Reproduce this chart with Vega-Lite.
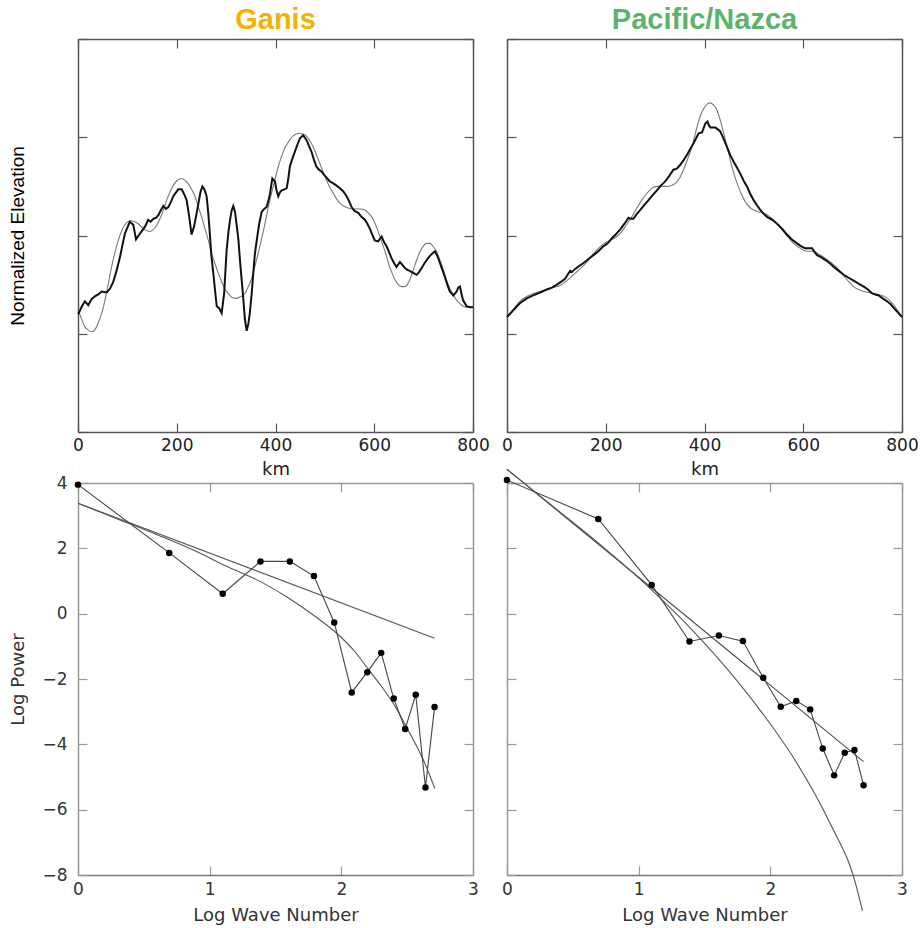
{
  "$schema": "https://vega.github.io/schema/vega-lite/v6.json",
  "background": "white",
  "padding": {"left": 8, "top": 6, "right": 5, "bottom": 2},
  "columns": 2,
  "spacing": {"row": 51, "column": 34},
  "bounds": "flush",
  "datasets": {
    "ganis_obs": [
      {"km":0,"elev":1.2},{"km":2.6,"elev":1.22},{"km":8,"elev":1.28},{"km":14,"elev":1.33},{"km":21,"elev":1.29},{"km":27,"elev":1.35},{"km":34,"elev":1.38},{"km":41,"elev":1.4},{"km":48,"elev":1.43},{"km":58,"elev":1.42},{"km":65,"elev":1.46},{"km":71.5,"elev":1.53},{"km":78,"elev":1.64},{"km":85,"elev":1.78},{"km":90,"elev":1.9},{"km":95,"elev":2.02},{"km":100,"elev":2.08},{"km":105,"elev":2.14},{"km":112,"elev":2.11},{"km":117.5,"elev":1.96},{"km":125.5,"elev":2.02},{"km":135.7,"elev":2.09},{"km":142,"elev":2.16},{"km":147,"elev":2.14},{"km":152.5,"elev":2.17},{"km":158,"elev":2.18},{"km":163,"elev":2.21},{"km":168,"elev":2.26},{"km":173,"elev":2.3},{"km":178,"elev":2.27},{"km":183,"elev":2.29},{"km":188,"elev":2.34},{"km":193,"elev":2.4},{"km":203,"elev":2.47},{"km":210,"elev":2.47},{"km":215,"elev":2.42},{"km":220,"elev":2.36},{"km":225,"elev":2.2},{"km":230,"elev":2.01},{"km":235,"elev":2.09},{"km":240,"elev":2.22},{"km":244,"elev":2.33},{"km":248,"elev":2.44},{"km":252,"elev":2.5},{"km":256,"elev":2.47},{"km":260.5,"elev":2.4},{"km":264,"elev":2.22},{"km":267,"elev":2.02},{"km":270,"elev":1.8},{"km":274,"elev":1.62},{"km":278,"elev":1.42},{"km":281,"elev":1.28},{"km":286,"elev":1.26},{"km":291,"elev":1.21},{"km":296,"elev":1.41},{"km":301,"elev":1.85},{"km":305,"elev":2.05},{"km":308,"elev":2.16},{"km":311,"elev":2.25},{"km":314.5,"elev":2.3},{"km":318,"elev":2.24},{"km":321,"elev":2.12},{"km":325,"elev":1.95},{"km":328,"elev":1.75},{"km":332,"elev":1.52},{"km":335,"elev":1.34},{"km":338,"elev":1.15},{"km":341.6,"elev":1.03},{"km":345,"elev":1.1},{"km":348,"elev":1.21},{"km":352,"elev":1.42},{"km":355,"elev":1.62},{"km":358,"elev":1.8},{"km":362,"elev":1.95},{"km":367,"elev":2.12},{"km":372,"elev":2.24},{"km":377,"elev":2.27},{"km":382,"elev":2.29},{"km":386,"elev":2.36},{"km":389,"elev":2.43},{"km":393.5,"elev":2.58},{"km":399,"elev":2.55},{"km":402,"elev":2.46},{"km":405.6,"elev":2.4},{"km":409,"elev":2.44},{"km":412.5,"elev":2.46},{"km":418,"elev":2.47},{"km":422.6,"elev":2.48},{"km":426,"elev":2.58},{"km":429,"elev":2.7},{"km":434,"elev":2.78},{"km":439,"elev":2.85},{"km":444,"elev":2.92},{"km":449.5,"elev":2.99},{"km":456,"elev":3.02},{"km":463,"elev":2.97},{"km":468,"elev":2.91},{"km":473,"elev":2.85},{"km":478,"elev":2.77},{"km":483,"elev":2.7},{"km":488,"elev":2.67},{"km":493.5,"elev":2.65},{"km":498,"elev":2.62},{"km":503.6,"elev":2.59},{"km":510,"elev":2.55},{"km":517,"elev":2.53},{"km":523,"elev":2.51},{"km":530.5,"elev":2.48},{"km":537,"elev":2.45},{"km":544,"elev":2.4},{"km":549,"elev":2.35},{"km":554,"elev":2.29},{"km":560,"elev":2.25},{"km":567.6,"elev":2.23},{"km":574,"elev":2.19},{"km":581,"elev":2.16},{"km":586,"elev":2.12},{"km":591,"elev":2.07},{"km":596,"elev":2.01},{"km":601,"elev":1.95},{"km":608,"elev":1.94},{"km":615,"elev":1.99},{"km":620,"elev":1.93},{"km":625,"elev":1.89},{"km":630,"elev":1.83},{"km":635,"elev":1.77},{"km":640,"elev":1.72},{"km":645,"elev":1.68},{"km":652,"elev":1.73},{"km":657,"elev":1.7},{"km":662,"elev":1.67},{"km":667,"elev":1.65},{"km":672,"elev":1.64},{"km":679,"elev":1.62},{"km":686,"elev":1.6},{"km":691,"elev":1.63},{"km":696,"elev":1.67},{"km":702,"elev":1.72},{"km":709,"elev":1.77},{"km":716,"elev":1.81},{"km":723,"elev":1.84},{"km":728,"elev":1.79},{"km":733,"elev":1.72},{"km":738,"elev":1.65},{"km":743,"elev":1.58},{"km":748,"elev":1.5},{"km":753,"elev":1.43},{"km":760,"elev":1.39},{"km":767,"elev":1.43},{"km":770,"elev":1.47},{"km":773.6,"elev":1.48},{"km":777,"elev":1.4},{"km":780,"elev":1.34},{"km":787,"elev":1.28},{"km":794,"elev":1.27},{"km":800,"elev":1.27}
    ],
    "ganis_model": [
      {"km":0,"elev":1.24},{"km":2.6,"elev":1.21},{"km":8,"elev":1.14},{"km":14,"elev":1.07},{"km":20,"elev":1.04},{"km":27.7,"elev":1.02},{"km":34,"elev":1.04},{"km":41,"elev":1.11},{"km":48,"elev":1.21},{"km":54.7,"elev":1.34},{"km":61,"elev":1.5},{"km":68,"elev":1.68},{"km":75,"elev":1.83},{"km":81.6,"elev":1.95},{"km":88,"elev":2.04},{"km":95,"elev":2.11},{"km":101,"elev":2.14},{"km":108.7,"elev":2.15},{"km":115,"elev":2.14},{"km":122,"elev":2.12},{"km":130,"elev":2.08},{"km":139,"elev":2.05},{"km":146,"elev":2.04},{"km":152.5,"elev":2.06},{"km":159,"elev":2.1},{"km":166,"elev":2.17},{"km":173,"elev":2.26},{"km":179.6,"elev":2.36},{"km":186,"elev":2.44},{"km":193,"elev":2.51},{"km":201,"elev":2.56},{"km":210,"elev":2.58},{"km":217,"elev":2.56},{"km":223,"elev":2.53},{"km":230,"elev":2.47},{"km":237,"elev":2.4},{"km":243,"elev":2.3},{"km":250.5,"elev":2.19},{"km":257,"elev":2.07},{"km":264,"elev":1.95},{"km":270,"elev":1.83},{"km":277,"elev":1.72},{"km":284,"elev":1.62},{"km":291,"elev":1.53},{"km":297,"elev":1.46},{"km":304,"elev":1.41},{"km":312,"elev":1.37},{"km":321,"elev":1.36},{"km":330,"elev":1.38},{"km":338,"elev":1.41},{"km":345,"elev":1.48},{"km":351.7,"elev":1.56},{"km":358,"elev":1.68},{"km":365,"elev":1.82},{"km":372,"elev":1.97},{"km":378.7,"elev":2.12},{"km":385,"elev":2.28},{"km":392,"elev":2.43},{"km":399,"elev":2.57},{"km":405.6,"elev":2.7},{"km":412,"elev":2.8},{"km":419,"elev":2.89},{"km":426,"elev":2.95},{"km":432.7,"elev":3.0},{"km":441,"elev":3.03},{"km":449.5,"elev":3.04},{"km":456,"elev":3.03},{"km":463,"elev":3.01},{"km":470,"elev":2.96},{"km":476.5,"elev":2.9},{"km":483,"elev":2.82},{"km":490,"elev":2.73},{"km":497,"elev":2.64},{"km":503.6,"elev":2.56},{"km":510,"elev":2.49},{"km":517,"elev":2.43},{"km":524,"elev":2.37},{"km":530.5,"elev":2.33},{"km":538,"elev":2.3},{"km":547,"elev":2.28},{"km":556,"elev":2.27},{"km":564,"elev":2.27},{"km":573,"elev":2.27},{"km":581,"elev":2.26},{"km":588,"elev":2.23},{"km":594.7,"elev":2.19},{"km":601,"elev":2.13},{"km":608,"elev":2.04},{"km":615,"elev":1.94},{"km":621.7,"elev":1.84},{"km":628,"elev":1.73},{"km":635,"elev":1.63},{"km":642,"elev":1.55},{"km":648.6,"elev":1.5},{"km":655,"elev":1.48},{"km":662,"elev":1.48},{"km":667,"elev":1.5},{"km":672,"elev":1.55},{"km":679,"elev":1.65},{"km":686,"elev":1.75},{"km":692,"elev":1.83},{"km":699,"elev":1.89},{"km":706,"elev":1.92},{"km":713,"elev":1.92},{"km":719,"elev":1.89},{"km":726,"elev":1.84},{"km":733,"elev":1.75},{"km":740,"elev":1.65},{"km":746,"elev":1.55},{"km":753,"elev":1.46},{"km":760,"elev":1.4},{"km":767,"elev":1.34},{"km":773,"elev":1.31},{"km":780,"elev":1.28},{"km":787,"elev":1.27},{"km":800,"elev":1.27}
    ],
    "pacific_obs": [
      {"km":0,"elev":1.17},{"km":13,"elev":1.24},{"km":26,"elev":1.31},{"km":40,"elev":1.36},{"km":53,"elev":1.39},{"km":67,"elev":1.42},{"km":80.5,"elev":1.45},{"km":91,"elev":1.47},{"km":101,"elev":1.5},{"km":110,"elev":1.53},{"km":117.6,"elev":1.56},{"km":124,"elev":1.61},{"km":128,"elev":1.64},{"km":132,"elev":1.63},{"km":138,"elev":1.66},{"km":146,"elev":1.69},{"km":155,"elev":1.72},{"km":165,"elev":1.76},{"km":175,"elev":1.8},{"km":185,"elev":1.84},{"km":195,"elev":1.89},{"km":204,"elev":1.92},{"km":212,"elev":1.97},{"km":220,"elev":2.01},{"km":229,"elev":2.06},{"km":238,"elev":2.12},{"km":246,"elev":2.18},{"km":251,"elev":2.17},{"km":256,"elev":2.17},{"km":263,"elev":2.22},{"km":270,"elev":2.26},{"km":278,"elev":2.31},{"km":286.6,"elev":2.36},{"km":295,"elev":2.41},{"km":303.6,"elev":2.46},{"km":312,"elev":2.51},{"km":320.5,"elev":2.55},{"km":329,"elev":2.61},{"km":337,"elev":2.67},{"km":344,"elev":2.68},{"km":351,"elev":2.72},{"km":358,"elev":2.77},{"km":364.5,"elev":2.82},{"km":371,"elev":2.88},{"km":378,"elev":2.94},{"km":383,"elev":2.99},{"km":388,"elev":3.04},{"km":395,"elev":3.05},{"km":398,"elev":3.09},{"km":401.6,"elev":3.14},{"km":406,"elev":3.16},{"km":409,"elev":3.12},{"km":412,"elev":3.1},{"km":417,"elev":3.1},{"km":422,"elev":3.1},{"km":427,"elev":3.08},{"km":432,"elev":3.06},{"km":439,"elev":2.98},{"km":445.6,"elev":2.9},{"km":452,"elev":2.82},{"km":459,"elev":2.75},{"km":466,"elev":2.69},{"km":472.5,"elev":2.63},{"km":479,"elev":2.56},{"km":486,"elev":2.5},{"km":492,"elev":2.43},{"km":499.5,"elev":2.36},{"km":506,"elev":2.31},{"km":513,"elev":2.26},{"km":520,"elev":2.22},{"km":526.7,"elev":2.19},{"km":537,"elev":2.16},{"km":547,"elev":2.12},{"km":557,"elev":2.07},{"km":567,"elev":2.01},{"km":577,"elev":1.96},{"km":587.5,"elev":1.92},{"km":596,"elev":1.89},{"km":604,"elev":1.87},{"km":611,"elev":1.87},{"km":618,"elev":1.87},{"km":623,"elev":1.83},{"km":628,"elev":1.8},{"km":636,"elev":1.78},{"km":645,"elev":1.75},{"km":653,"elev":1.72},{"km":662,"elev":1.68},{"km":672,"elev":1.64},{"km":682,"elev":1.6},{"km":692,"elev":1.57},{"km":702,"elev":1.54},{"km":712,"elev":1.51},{"km":722.6,"elev":1.48},{"km":731,"elev":1.45},{"km":739.6,"elev":1.41},{"km":746,"elev":1.4},{"km":753,"elev":1.39},{"km":761,"elev":1.36},{"km":770,"elev":1.33},{"km":777,"elev":1.3},{"km":783.6,"elev":1.26},{"km":791,"elev":1.22},{"km":800,"elev":1.17}
    ],
    "pacific_model": [
      {"km":0,"elev":1.17},{"km":13,"elev":1.25},{"km":26,"elev":1.33},{"km":40,"elev":1.38},{"km":53,"elev":1.41},{"km":67,"elev":1.43},{"km":80,"elev":1.45},{"km":94,"elev":1.47},{"km":107.5,"elev":1.49},{"km":121,"elev":1.54},{"km":134.5,"elev":1.6},{"km":148,"elev":1.66},{"km":161.6,"elev":1.73},{"km":173,"elev":1.8},{"km":185,"elev":1.87},{"km":197,"elev":1.92},{"km":209,"elev":1.95},{"km":219,"elev":1.98},{"km":229,"elev":2.02},{"km":238,"elev":2.08},{"km":246,"elev":2.14},{"km":254,"elev":2.2},{"km":263,"elev":2.28},{"km":273,"elev":2.36},{"km":283.5,"elev":2.43},{"km":293,"elev":2.48},{"km":303.6,"elev":2.5},{"km":314,"elev":2.5},{"km":324,"elev":2.5},{"km":333,"elev":2.51},{"km":341,"elev":2.53},{"km":349,"elev":2.58},{"km":357.5,"elev":2.67},{"km":366,"elev":2.78},{"km":374.6,"elev":2.9},{"km":381,"elev":3.03},{"km":388,"elev":3.16},{"km":394,"elev":3.25},{"km":399.5,"elev":3.3},{"km":406,"elev":3.34},{"km":412,"elev":3.35},{"km":418,"elev":3.33},{"km":425,"elev":3.28},{"km":431,"elev":3.19},{"km":437.4,"elev":3.07},{"km":445,"elev":2.92},{"km":452,"elev":2.77},{"km":459,"elev":2.64},{"km":466,"elev":2.53},{"km":474,"elev":2.43},{"km":483,"elev":2.34},{"km":491,"elev":2.29},{"km":499.5,"elev":2.26},{"km":510,"elev":2.24},{"km":520,"elev":2.23},{"km":530,"elev":2.2},{"km":540,"elev":2.16},{"km":550,"elev":2.1},{"km":560,"elev":2.04},{"km":570,"elev":1.98},{"km":580.6,"elev":1.92},{"km":591,"elev":1.88},{"km":601,"elev":1.85},{"km":611,"elev":1.84},{"km":621,"elev":1.84},{"km":631,"elev":1.81},{"km":641.5,"elev":1.78},{"km":652,"elev":1.74},{"km":662,"elev":1.7},{"km":672,"elev":1.65},{"km":682,"elev":1.59},{"km":692,"elev":1.53},{"km":702,"elev":1.48},{"km":712,"elev":1.45},{"km":722.6,"elev":1.43},{"km":733,"elev":1.42},{"km":743,"elev":1.41},{"km":752,"elev":1.4},{"km":760,"elev":1.39},{"km":768,"elev":1.37},{"km":777,"elev":1.33},{"km":784,"elev":1.29},{"km":790.5,"elev":1.24},{"km":795,"elev":1.21},{"km":800,"elev":1.17}
    ],
    "ganis_spec": [
      {"logk":0,"logp":3.95},{"logk":0.693,"logp":1.86},{"logk":1.099,"logp":0.61},{"logk":1.386,"logp":1.6},{"logk":1.609,"logp":1.6},{"logk":1.792,"logp":1.15},{"logk":1.946,"logp":-0.27},{"logk":2.079,"logp":-2.41},{"logk":2.197,"logp":-1.79},{"logk":2.303,"logp":-1.2},{"logk":2.398,"logp":-2.6},{"logk":2.485,"logp":-3.53},{"logk":2.565,"logp":-2.48},{"logk":2.639,"logp":-5.32},{"logk":2.708,"logp":-2.86}
    ],
    "ganis_line": [{"logk":0,"logp":3.38},{"logk":2.708,"logp":-0.75}],
    "ganis_curve": [
      {"logk":0,"logp":3.38},{"logk":0.3,"logp":2.9},{"logk":0.623,"logp":2.38},{"logk":0.9,"logp":1.9},{"logk":1.129,"logp":1.45},{"logk":1.4,"logp":0.95},{"logk":1.61,"logp":0.45},{"logk":1.8,"logp":-0.08},{"logk":1.965,"logp":-0.6},{"logk":2.1,"logp":-1.15},{"logk":2.205,"logp":-1.7},{"logk":2.3,"logp":-2.2},{"logk":2.395,"logp":-2.75},{"logk":2.52,"logp":-3.66},{"logk":2.62,"logp":-4.45},{"logk":2.71,"logp":-5.35}
    ],
    "pacific_spec": [
      {"logk":0,"logp":4.09},{"logk":0.693,"logp":2.9},{"logk":1.099,"logp":0.88},{"logk":1.386,"logp":-0.85},{"logk":1.609,"logp":-0.67},{"logk":1.792,"logp":-0.84},{"logk":1.946,"logp":-1.96},{"logk":2.079,"logp":-2.85},{"logk":2.197,"logp":-2.67},{"logk":2.303,"logp":-2.93},{"logk":2.398,"logp":-4.13},{"logk":2.485,"logp":-4.95},{"logk":2.565,"logp":-4.26},{"logk":2.639,"logp":-4.17},{"logk":2.708,"logp":-5.25}
    ],
    "pacific_line": [{"logk":0,"logp":4.42},{"logk":2.708,"logp":-4.53}],
    "pacific_curve": [
      {"logk":0,"logp":4.42},{"logk":0.35,"logp":3.28},{"logk":0.697,"logp":2.15},{"logk":1.1,"logp":0.72},{"logk":1.43,"logp":-0.6},{"logk":1.685,"logp":-1.75},{"logk":1.94,"logp":-3.05},{"logk":2.19,"logp":-4.5},{"logk":2.445,"logp":-6.35},{"logk":2.65,"logp":-8.3},{"logk":2.7,"logp":-9.1}
    ]
  },
  "concat": [
    {
      "width": 395, "height": 393,
      "title": {"text": "Ganis", "color": "#F2B300", "font": "Liberation Sans", "fontSize": 29, "fontWeight": "bold", "anchor": "middle", "offset": 3},
      "layer": [
        {
          "data": {"name": "ganis_model"},
          "mark": {"type": "line", "color": "#7a7a7a", "strokeWidth": 1.1, "interpolate": "monotone"},
          "encoding": {
            "x": {"field": "km", "type": "quantitative", "scale": {"domain": [0, 800], "nice": false},
                  "axis": {"orient": "bottom", "values": [0, 200, 400, 600, 800], "title": "km", "labelPadding": 14, "titlePadding": 7, "domainColor": "#555", "tickColor": "#555", "labelColor": "#222", "titleColor": "#222"}},
            "y": {"field": "elev", "type": "quantitative", "scale": {"domain": [0, 4], "nice": false, "zero": false},
                  "axis": {"orient": "left", "values": [0, 1, 2, 3, 4], "labels": false, "title": "Normalized Elevation", "titleFont": "Liberation Sans", "titleFontSize": 19, "titleColor": "#000", "titlePadding": 50, "domainColor": "#555", "tickColor": "#555"}}
          }
        },
        {
          "data": {"name": "ganis_obs"},
          "mark": {"type": "line", "color": "#111", "strokeWidth": 2},
          "encoding": {
            "x": {"field": "km", "type": "quantitative", "axis": {"orient": "top", "values": [0, 200, 400, 600, 800], "labels": false, "title": null, "domainColor": "#555", "tickColor": "#555"}},
            "y": {"field": "elev", "type": "quantitative", "axis": {"orient": "right", "values": [0, 1, 2, 3, 4], "labels": false, "title": null, "domainColor": "#555", "tickColor": "#555"}}
          }
        }
      ],
      "resolve": {"axis": {"x": "independent", "y": "independent"}}
    },
    {
      "width": 395, "height": 393,
      "title": {"text": "Pacific/Nazca", "color": "#5BB36C", "font": "Liberation Sans", "fontSize": 29, "fontWeight": "bold", "anchor": "middle", "offset": 3},
      "layer": [
        {
          "data": {"name": "pacific_model"},
          "mark": {"type": "line", "color": "#7a7a7a", "strokeWidth": 1.1, "interpolate": "monotone"},
          "encoding": {
            "x": {"field": "km", "type": "quantitative", "scale": {"domain": [0, 800], "nice": false},
                  "axis": {"orient": "bottom", "values": [0, 200, 400, 600, 800], "title": "km", "labelPadding": 14, "titlePadding": 7, "domainColor": "#555", "tickColor": "#555", "labelColor": "#222", "titleColor": "#222"}},
            "y": {"field": "elev", "type": "quantitative", "scale": {"domain": [0, 4], "nice": false, "zero": false},
                  "axis": {"orient": "left", "values": [0, 1, 2, 3, 4], "labels": false, "title": null, "domainColor": "#555", "tickColor": "#555"}}
          }
        },
        {
          "data": {"name": "pacific_obs"},
          "mark": {"type": "line", "color": "#111", "strokeWidth": 2},
          "encoding": {
            "x": {"field": "km", "type": "quantitative", "axis": {"orient": "top", "values": [0, 200, 400, 600, 800], "labels": false, "title": null, "domainColor": "#555", "tickColor": "#555"}},
            "y": {"field": "elev", "type": "quantitative", "axis": {"orient": "right", "values": [0, 1, 2, 3, 4], "labels": false, "title": null, "domainColor": "#555", "tickColor": "#555"}}
          }
        }
      ],
      "resolve": {"axis": {"x": "independent", "y": "independent"}}
    },
    {
      "width": 395, "height": 392,
      "layer": [
        {
          "data": {"name": "ganis_line"},
          "mark": {"type": "line", "color": "#555", "strokeWidth": 1.1},
          "encoding": {
            "x": {"field": "logk", "type": "quantitative", "scale": {"domain": [0, 3], "nice": false},
                  "axis": {"orient": "bottom", "values": [0, 1, 2, 3], "title": "Log Wave Number", "labelPadding": 15, "titlePadding": 9, "domainColor": "#777", "tickColor": "#999"}},
            "y": {"field": "logp", "type": "quantitative", "scale": {"domain": [-8, 4], "nice": false, "zero": false},
                  "axis": {"orient": "left", "values": [-8, -6, -4, -2, 0, 2, 4], "title": "Log Power", "labelPadding": 20, "titlePadding": 14, "domainColor": "#999", "tickColor": "#999"}}
          }
        },
        {
          "data": {"name": "ganis_curve"},
          "mark": {"type": "line", "color": "#555", "strokeWidth": 1.1, "interpolate": "monotone"},
          "encoding": {
            "x": {"field": "logk", "type": "quantitative", "axis": null},
            "y": {"field": "logp", "type": "quantitative", "axis": null}
          }
        },
        {
          "data": {"name": "ganis_spec"},
          "mark": {"type": "line", "color": "#444", "strokeWidth": 1.1},
          "encoding": {
            "x": {"field": "logk", "type": "quantitative", "axis": null},
            "y": {"field": "logp", "type": "quantitative", "axis": null}
          }
        },
        {
          "data": {"name": "ganis_spec"},
          "mark": {"type": "point", "filled": true, "color": "#000", "size": 42, "opacity": 1},
          "encoding": {
            "x": {"field": "logk", "type": "quantitative", "axis": {"orient": "top", "values": [0, 1, 2, 3], "labels": false, "title": null, "domainColor": "#999", "tickColor": "#999"}},
            "y": {"field": "logp", "type": "quantitative", "axis": {"orient": "right", "values": [-8, -6, -4, -2, 0, 2, 4], "labels": false, "title": null, "domainColor": "#999", "tickColor": "#999"}}
          }
        }
      ],
      "resolve": {"axis": {"x": "independent", "y": "independent"}}
    },
    {
      "width": 395, "height": 392,
      "layer": [
        {
          "data": {"name": "pacific_line"},
          "mark": {"type": "line", "color": "#444", "strokeWidth": 1.1},
          "encoding": {
            "x": {"field": "logk", "type": "quantitative", "scale": {"domain": [0, 3], "nice": false},
                  "axis": {"orient": "bottom", "values": [0, 1, 2, 3], "title": "Log Wave Number", "labelPadding": 15, "titlePadding": 9, "domainColor": "#777", "tickColor": "#999"}},
            "y": {"field": "logp", "type": "quantitative", "scale": {"domain": [-8, 4], "nice": false, "zero": false},
                  "axis": {"orient": "left", "values": [-8, -6, -4, -2, 0, 2, 4], "labels": false, "title": null, "domainColor": "#999", "tickColor": "#999"}}
          }
        },
        {
          "data": {"name": "pacific_curve"},
          "mark": {"type": "line", "color": "#555", "strokeWidth": 1.1, "interpolate": "monotone", "clip": false},
          "encoding": {
            "x": {"field": "logk", "type": "quantitative", "axis": null},
            "y": {"field": "logp", "type": "quantitative", "axis": null}
          }
        },
        {
          "data": {"name": "pacific_spec"},
          "mark": {"type": "line", "color": "#444", "strokeWidth": 1.1},
          "encoding": {
            "x": {"field": "logk", "type": "quantitative", "axis": null},
            "y": {"field": "logp", "type": "quantitative", "axis": null}
          }
        },
        {
          "data": {"name": "pacific_spec"},
          "mark": {"type": "point", "filled": true, "color": "#000", "size": 42, "opacity": 1},
          "encoding": {
            "x": {"field": "logk", "type": "quantitative", "axis": {"orient": "top", "values": [0, 1, 2, 3], "labels": false, "title": null, "domainColor": "#999", "tickColor": "#999"}},
            "y": {"field": "logp", "type": "quantitative", "axis": {"orient": "right", "values": [-8, -6, -4, -2, 0, 2, 4], "labels": false, "title": null, "domainColor": "#999", "tickColor": "#999"}}
          }
        }
      ],
      "resolve": {"axis": {"x": "independent", "y": "independent"}}
    }
  ],
  "config": {
    "view": {"stroke": null},
    "axis": {
      "grid": false,
      "labelFont": "DejaVu Sans",
      "labelFontSize": 17,
      "labelColor": "#333",
      "labelFlush": false,
      "labelOverlap": false,
      "titleFont": "DejaVu Sans",
      "titleFontSize": 18,
      "titleFontWeight": "normal",
      "titleColor": "#333",
      "tickSize": -9,
      "tickWidth": 1.2,
      "domainWidth": 1.5
    }
  }
}
